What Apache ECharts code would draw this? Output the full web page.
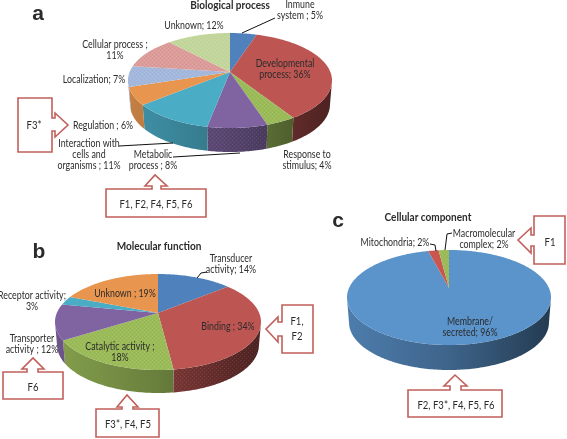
<!DOCTYPE html>
<html>
<head>
<meta charset="utf-8">
<script src="https://cdn.jsdelivr.net/npm/echarts@6/dist/echarts.min.js"></script>
<style>
html,body{margin:0;padding:0;background:#fff}
#chart{width:567px;height:439px}
</style>
</head>
<body>
<div id="chart"></div>
<script>
// Biological process
var bioNames = ['Inmune\nsystem ;', 'Developmental\nprocess;', 'Response to\nstimulus;', 'Metabolic\nprocess ;', 'Interaction with\ncells and\norganisms ;', 'Regulation ;', 'Localization;', 'Cellular process ;\n', 'Unknown;'];
var bioValues = [5, 36, 4, 8, 11, 6, 7, 11, 12];
var bioColors = ['#4f81bd', '#bd5652', '#9bbb59', '#8064a2', '#4bacc6', '#e8964f', '#a3b8dc', '#dc9c9a', '#c3d69b'];
// Molecular function
var molNames = ['Transducer\nactivity;', 'Binding ;', 'Catalytic activity ;\n', 'Transporter\nactivity ;', 'Receptor activity;\n', 'Unknown ;'];
var molValues = [14, 34, 18, 12, 3, 19];
var molColors = ['#4f81bd', '#bd5652', '#9bbb59', '#8064a2', '#4bacc6', '#e8964f'];
// Cellular component
var celNames = ['Membrane/\nsecreted;', 'Mitochondria;', 'Macromolecular\ncomplex;'];
var celValues = [96, 2, 2];
var celColors = ['#5b93cb', '#c9564f', '#9bbb59'];

var FONT = 'Lato';
var LINE = '#c1605b';

var pies = [
    {names: bioNames, values: bioValues, colors: bioColors, cx: 230, cy: 72, rx: 102, above: 39, below: 56, depth: 24,
        dottedTop: [2, 6, 7, 8], dottedSide: [3],
        labels: [[300, 10], [285, 69], [307, 160], [153, 160], [89, 155], [103, 126], [94, 80], [115, 50], [194, 26]]},
    {names: molNames, values: molValues, colors: molColors, cx: 158, cy: 313, rx: 103, above: 39, below: 57, depth: 23,
        dottedTop: [2], dottedSide: [1],
        labels: [[231, 264], [228, 327], [120, 352], [32, 344], [32, 301], [125, 294]]},
    {names: celNames, values: celValues, colors: celColors, cx: 449, cy: 288, rx: 102, above: 38, below: 57, depth: 25,
        dottedTop: [2], dottedSide: [],
        labels: [[470, 327], [395, 243], [484, 239]]}
];

var titles = [['Biological process', 230, 5], ['Molecular function', 159, 246], ['Cellular component', 428, 217]];
var letters = [['a', 38, 14], ['b', 39, 252], ['c', 338, 221]];

var leaders = [
    [[275, 18], [242, 33]],
    [[119, 146], [173, 143]],
    [[173, 157], [240, 153]],
    [[207, 272], [201, 273], [197, 278]],
    [[430, 244], [435, 245], [436, 251]],
    [[452, 233], [447, 234], [445, 250]]
];

var callouts = [
    {text: 'F3*', at: [34, 125], shape: [[18, 98], [52, 98], [52, 118], [55, 118], [55, 113], [68, 125], [55, 137], [55, 131], [52, 131], [52, 152], [18, 152]]},
    {text: 'F1, F2, F4, F5, F6', at: [156, 204], shape: [[106, 189], [152, 189], [152, 186], [145, 186], [155, 175], [167, 186], [161, 186], [161, 189], [206, 189], [206, 217], [106, 217]]},
    {text: 'F1,\nF2', at: [297, 329], shape: [[282, 305], [313, 305], [313, 353], [282, 353], [282, 336], [278, 336], [278, 342], [266, 329], [278, 317], [278, 322], [282, 322]]},
    {text: 'F6', at: [33, 387], shape: [[3, 372], [27, 372], [27, 369], [22, 369], [33, 358], [44, 369], [38, 369], [38, 372], [63, 372], [63, 399], [3, 399]]},
    {text: 'F3*, F4, F5', at: [128, 424], shape: [[96, 409], [122, 409], [122, 407], [117, 407], [127, 395], [138, 407], [133, 407], [133, 409], [159, 409], [159, 437], [96, 437]]},
    {text: 'F1', at: [550, 242], shape: [[534, 216], [565, 216], [565, 264], [534, 264], [534, 246], [531, 246], [531, 253], [518, 240], [531, 228], [531, 235], [534, 235]]},
    {text: 'F2, F3*, F4, F5, F6', at: [456, 405], shape: [[408, 390], [450, 390], [450, 386], [444, 386], [455, 375], [467, 386], [461, 386], [461, 390], [502, 390], [502, 417], [408, 417]]}
];

function shade(hex, f) {
    var n = parseInt(hex.slice(1), 16);
    var r = Math.round((n >> 16) * f), g = Math.round(((n >> 8) & 255) * f), b = Math.round((n & 255) * f);
    return 'rgb(' + r + ',' + g + ',' + b + ')';
}

// the speckle some of the original slices carry
var speckle = document.createElement('canvas');
speckle.width = speckle.height = 4;
(function () {
    var ctx = speckle.getContext('2d');
    ctx.fillStyle = 'rgba(255,255,255,0.09)';
    ctx.fillRect(0, 0, 1, 1);
    ctx.fillRect(2, 2, 1, 1);
    ctx.fillStyle = 'rgba(0,0,0,0.04)';
    ctx.fillRect(2, 0, 1, 1);
    ctx.fillRect(0, 2, 1, 1);
})();

// perspective tilt: the apex sits above the middle of the visible ellipse
function project(p, deg) {
    var k = (p.below - p.above) / (p.below + p.above);
    var s = p.above * (1 + k);
    var t = p.rx * Math.sqrt(1 - k * k);
    var a = deg * Math.PI / 180;
    var u = Math.sin(a), v = -Math.cos(a);
    var d = 1 - k * v;
    return {x: p.cx + t * u / d, y: p.cy + s * v / d, front: v >= k};
}

function pieSeries(p) {
    var total = p.values.reduce(function (a, b) { return a + b; }, 0);
    return {
        type: 'custom',
        coordinateSystem: 'none',
        silent: true,
        animation: false,
        data: p.values,
        renderItem: function (params, api) {
            var i = params.dataIndex, before = 0;
            for (var j = 0; j < i; j++) before += p.values[j];
            var from = before / total * 360, to = (before + api.value(0)) / total * 360;
            var color = p.colors[i];
            var top = [[p.cx, p.cy]], rimFront = [];
            for (var deg = from; deg < to; deg += 1) {
                var q = project(p, deg);
                top.push([q.x, q.y]);
                if (q.front) rimFront.push([q.x, q.y]);
            }
            var last = project(p, to);
            top.push([last.x, last.y]);
            if (last.front) rimFront.push([last.x, last.y]);

            var children = [];
            if (rimFront.length > 1) {
                // lower rim is a touch narrower, as the base is further from the eye
                var side = rimFront.concat(rimFront.map(function (pt) {
                    return [p.cx + (pt[0] - p.cx) * 0.98, pt[1] + p.depth];
                }).reverse());
                children.push({
                    type: 'polygon',
                    shape: {points: side},
                    style: {
                        fill: {
                            type: 'linear', global: true,
                            x: p.cx - p.rx, y: 0, x2: p.cx + p.rx, y2: 0,
                            colorStops: [
                                {offset: 0, color: shade(color, 0.85)},
                                {offset: 0.5, color: shade(color, 0.68)},
                                {offset: 1, color: shade(color, 0.4)}
                            ]
                        }
                    }
                });
                if (p.dottedSide.indexOf(i) >= 0) {
                    children.push({type: 'polygon', shape: {points: side}, style: {fill: {image: speckle, repeat: 'repeat'}}});
                }
            }
            children.push({type: 'polygon', shape: {points: top}, style: {fill: color}});
            if (p.dottedTop.indexOf(i) >= 0) {
                children.push({type: 'polygon', shape: {points: top}, style: {fill: {image: speckle, repeat: 'repeat'}}});
            }
            return {type: 'group', children: children};
        }
    };
}

var graphics = [];
// no Calibri here: Lato squeezed sideways gets the original's height and width
function addText(text, x, y, size, weight, family, lineHeight, squeeze) {
    graphics.push({
        type: 'text', x: x, y: y, z: 10, scaleX: squeeze,
        style: {text: text, fill: '#2b2b2b', font: weight + ' ' + size + 'px ' + family, align: 'center', verticalAlign: 'middle', lineHeight: lineHeight}
    });
}
pies.forEach(function (p) {
    p.names.forEach(function (name, i) {
        addText(name + (name.slice(-1) === '\n' ? '' : ' ') + p.values[i] + '%', p.labels[i][0], p.labels[i][1], 10.5, 'normal', FONT, 11, 0.84);
    });
});
titles.forEach(function (t) { addText(t[0], t[1], t[2], 11, 'bold', FONT, 12, 0.91); });
letters.forEach(function (t) { addText(t[0], t[1], t[2], 21, 'bold', 'Liberation Sans', 24, 1); });
leaders.forEach(function (pts) {
    graphics.push({type: 'polyline', z: 9, shape: {points: pts}, style: {stroke: '#111', lineWidth: 1, fill: null}});
});
callouts.forEach(function (c) {
    graphics.push({type: 'polygon', z: 8, shape: {points: c.shape}, style: {fill: '#fff', stroke: LINE, lineWidth: 1.6}});
    addText(c.text, c.at[0], c.at[1], 11.5, 'normal', FONT, 15, 0.83);
});

var myChart = echarts.init(document.getElementById('chart'), null, {renderer: 'canvas'});
myChart.setOption({
    backgroundColor: '#fff',
    animation: false,
    series: pies.map(pieSeries),
    graphic: graphics
});
</script>
</body>
</html>
